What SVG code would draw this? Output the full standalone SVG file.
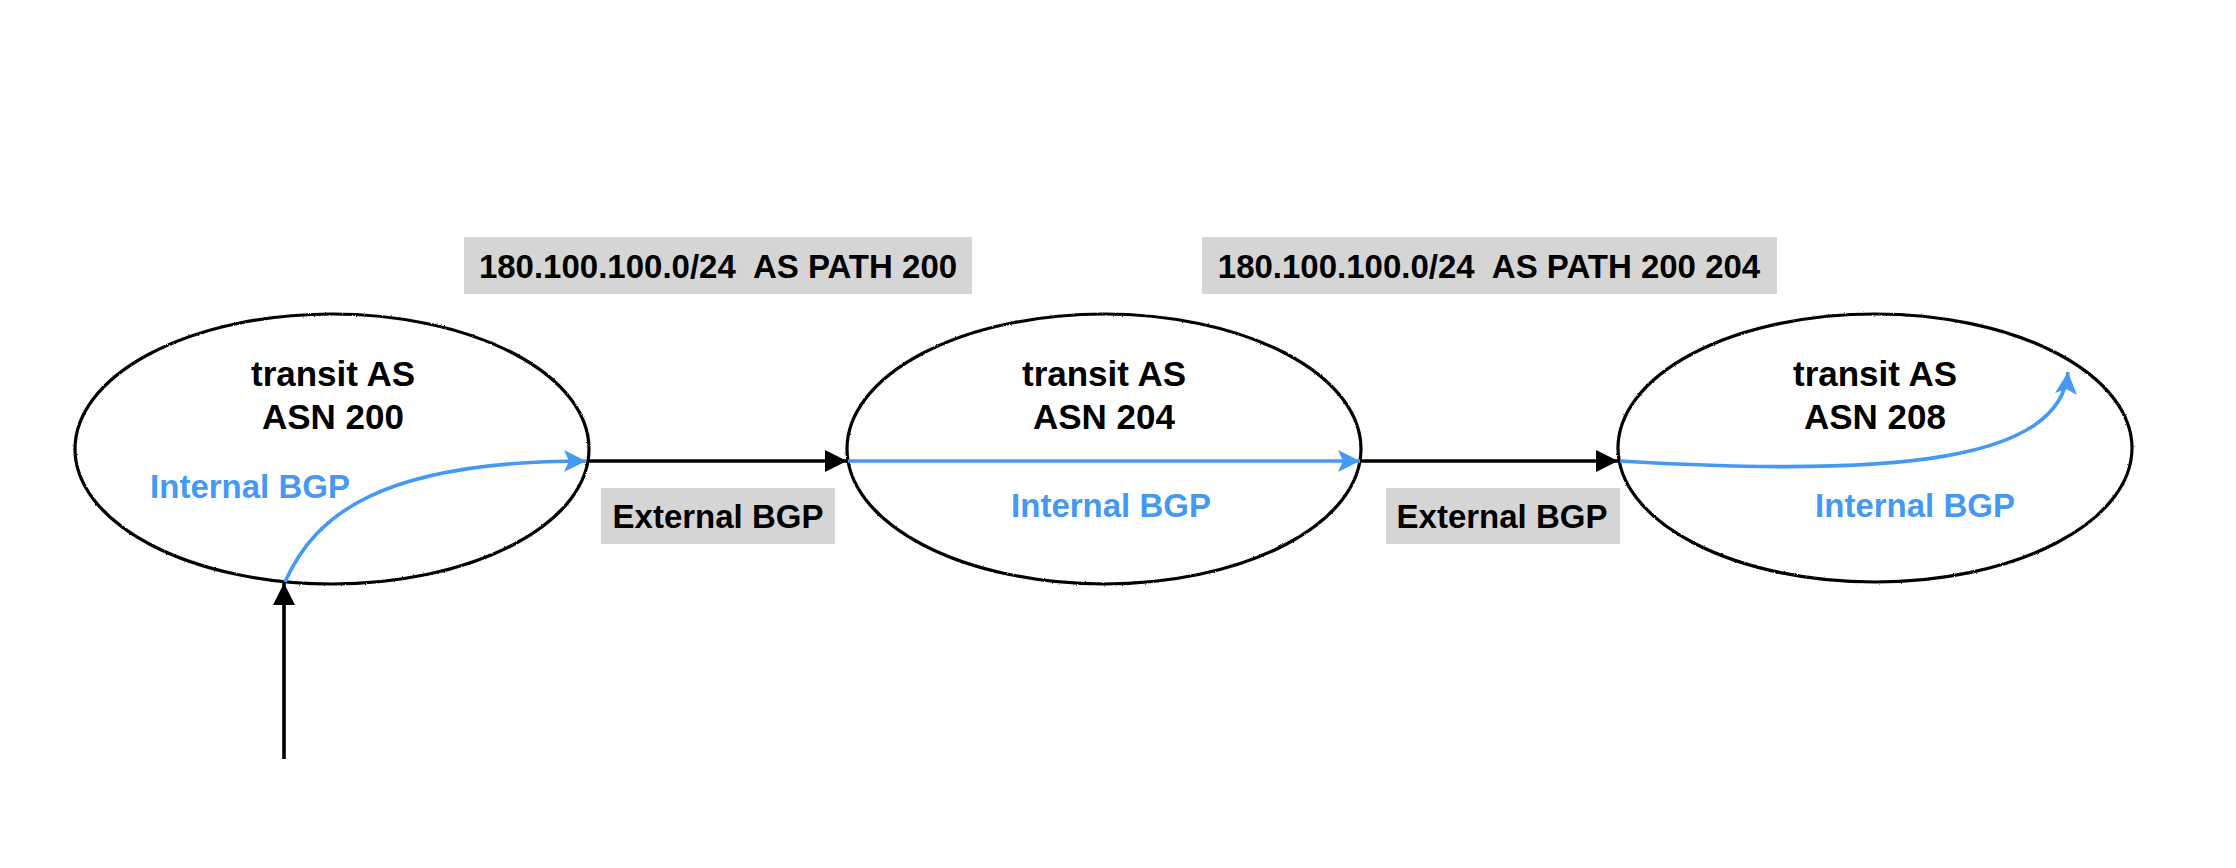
<svg xmlns="http://www.w3.org/2000/svg" width="2236" height="868" viewBox="0 0 2236 868">
<style>
.as{fill:none;stroke:#000;stroke-width:3.2}
.t{font-family:"Liberation Sans",Arial,sans-serif;font-weight:bold;text-anchor:middle}
.name{font-size:35px;fill:#000}
.ibgp{font-size:33px;fill:#4599F2}
.lbl{font-size:33px;fill:#000}
.box{fill:#D5D5D5}
.blk{fill:none;stroke:#000;stroke-width:3.6}
.blu{fill:none;stroke:#4599F2;stroke-width:3.6}
</style>
<defs>
<filter id="rough" x="-5%" y="-5%" width="110%" height="110%">
<feTurbulence type="fractalNoise" baseFrequency="0.9" numOctaves="1" seed="3" result="n"/>
<feDisplacementMap in="SourceGraphic" in2="n" scale="2.2" xChannelSelector="R" yChannelSelector="G"/>
</filter>
<marker id="ab" viewBox="0 0 22 22" refX="22" refY="11" markerWidth="22" markerHeight="22" markerUnits="userSpaceOnUse" orient="auto">
<path d="M0,0 L22,11 L0,22 Z" fill="#000"/>
</marker>
<marker id="au" viewBox="0 0 22 22" refX="22" refY="11" markerWidth="22" markerHeight="22" markerUnits="userSpaceOnUse" orient="auto">
<path d="M0,0 L22,11 L0,22 L5,11 Z" fill="#4599F2"/>
</marker>
</defs>
<rect width="2236" height="868" fill="#fff"/>

<g id="as200">
<ellipse class="as" cx="332" cy="449" rx="257" ry="135" filter="url(#rough)"/>
<text class="t name" x="333" y="386">transit AS</text>
<text class="t name" x="333" y="429">ASN 200</text>
<text class="t ibgp" x="250" y="498">Internal BGP</text>
</g>

<g id="as204">
<ellipse class="as" cx="1104" cy="449" rx="257" ry="135" filter="url(#rough)"/>
<text class="t name" x="1104" y="386">transit AS</text>
<text class="t name" x="1104" y="429">ASN 204</text>
<text class="t ibgp" x="1111" y="517">Internal BGP</text>
</g>

<g id="as208">
<ellipse class="as" cx="1875" cy="448" rx="257" ry="134" filter="url(#rough)"/>
<text class="t name" x="1875" y="386">transit AS</text>
<text class="t name" x="1875" y="429">ASN 208</text>
<text class="t ibgp" x="1915" y="517">Internal BGP</text>
</g>

<g id="path-label-1">
<rect class="box" x="464" y="237" width="508" height="57"/>
<text class="t lbl" x="718" y="278" xml:space="preserve">180.100.100.0/24  AS PATH 200</text>
</g>
<g id="path-label-2">
<rect class="box" x="1202" y="237" width="575" height="57"/>
<text class="t lbl" x="1489" y="278" xml:space="preserve">180.100.100.0/24  AS PATH 200 204</text>
</g>

<g id="ebgp-label-1">
<rect class="box" x="601" y="488" width="234" height="56"/>
<text class="t lbl" x="718" y="528">External BGP</text>
</g>
<g id="ebgp-label-2">
<rect class="box" x="1386" y="488" width="234" height="56"/>
<text class="t lbl" x="1502" y="528">External BGP</text>
</g>

<g id="connectors">
<line class="blk" x1="284" y1="759" x2="284" y2="583" marker-end="url(#ab)"/>
<path class="blu" d="M285,582 C315,515 380,461 586,461" marker-end="url(#au)"/>
<line class="blk" x1="589" y1="461" x2="847" y2="461" marker-end="url(#ab)"/>
<line class="blu" x1="848" y1="461" x2="1360" y2="461" marker-end="url(#au)"/>
<line class="blk" x1="1361" y1="461" x2="1618" y2="461" marker-end="url(#ab)"/>
<path class="blu" d="M1620,461 C1900,478 2060,460 2068,372" marker-end="url(#au)"/>
</g>
</svg>
